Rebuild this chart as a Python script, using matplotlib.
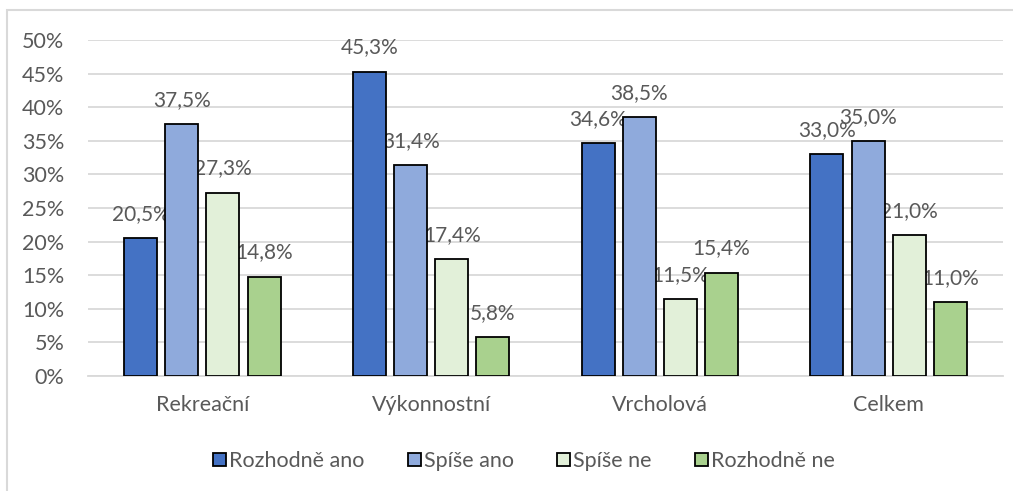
import numpy as np
import matplotlib.pyplot as plt
from matplotlib.patches import Rectangle, Patch

plt.rcParams['font.family'] = ['Lato', 'DejaVu Sans']

categories = ['Rekreační', 'Výkonnostní', 'Vrcholová', 'Celkem']
series_names = ['Rozhodně ano', 'Spíše ano', 'Spíše ne', 'Rozhodně ne']
values = [
    [20.5, 45.3, 34.6, 33.0],   # Rozhodně ano
    [37.5, 31.4, 38.5, 35.0],   # Spíše ano
    [27.3, 17.4, 11.5, 21.0],   # Spíše ne
    [14.8, 5.8, 15.4, 11.0],    # Rozhodně ne
]
colors = ['#4472C4', '#8FAADC', '#E2F0D9', '#A9D18E']
yticks = list(range(0, 51, 5))

text_col = '#595959'
grid_col = '#D9D9D9'
fs = 15.5

W, H = 1013, 491
fig = plt.figure(figsize=(W / 100, H / 100), dpi=100)
ax = fig.add_axes([88 / W, 1 - 376 / H, (1003 - 88) / W, (376 - 40) / H])

# outer chart frame (cropped at right and bottom)
fig.add_artist(Rectangle((7 / W, -0.1), 1.2, 1 - 10 / H + 0.1, transform=fig.transFigure,
                         fill=False, edgecolor=grid_col, linewidth=1.5))

x = np.arange(len(categories))
bw = 0.144
step = 0.18
for i, (name, vals, c) in enumerate(zip(series_names, values, colors)):
    pos = x + (i - 1.5) * step
    ax.bar(pos, vals, bw, color=c, edgecolor='black', linewidth=1.3, zorder=3, label=name)
    for p, v in zip(pos, vals):
        ax.annotate(f'{v:.1f}%'.replace('.', ','), (p, v), xytext=(0, 13),
                    textcoords='offset points', ha='center', va='baseline',
                    fontsize=15, color=text_col, zorder=2)

ax.set_xlim(-0.5, len(categories) - 0.5)
ax.set_ylim(0, 50)
ax.set_yticks(yticks)
ax.set_yticklabels([f'{t}%' for t in yticks])
ax.set_xticks(x)
ax.set_xticklabels(categories)
ax.tick_params(length=0, labelsize=fs, colors=text_col)
ax.tick_params(axis='x', pad=14)
ax.tick_params(axis='y', pad=17)
ax.grid(axis='y', color=grid_col, linewidth=1.3, zorder=0)
ax.set_axisbelow(True)
for s in ['top', 'right', 'left']:
    ax.spines[s].set_visible(False)
ax.spines['bottom'].set_color(grid_col)
ax.spines['bottom'].set_linewidth(1.3)

handles = [Patch(facecolor=c, edgecolor='black', linewidth=1.3) for c in colors]
fig.legend(handles, series_names, loc='center', bbox_to_anchor=(524 / W, 1 - 461 / H),
           ncol=4, frameon=False, fontsize=fs, labelcolor=text_col,
           handlelength=0.6, handleheight=0.6, handletextpad=0.15, columnspacing=2.0)

fig.savefig('out.png', dpi=100)
